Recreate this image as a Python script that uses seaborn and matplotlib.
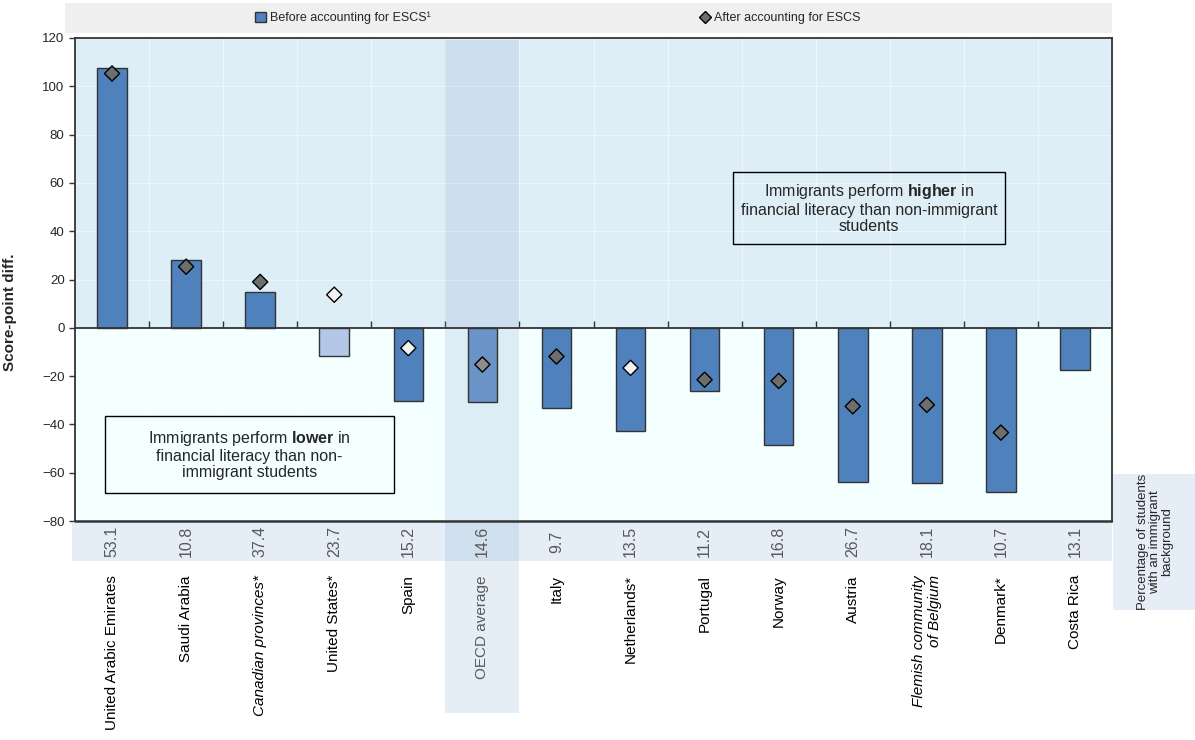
import numpy as np
import pandas as pd
import seaborn as sns
import matplotlib
matplotlib.use("Agg")
import matplotlib.pyplot as plt
from matplotlib.patches import Rectangle, Patch
from matplotlib.lines import Line2D
import matplotlib.transforms as mtransforms

# ---- data ----
countries = ["United Arabic Emirates", "Saudi Arabia", "Canadian provinces*", "United States*",
             "Spain", "OECD average", "Italy", "Netherlands*", "Portugal", "Norway", "Austria",
             "Flemish community\nof Belgium", "Denmark*", "Costa Rica"]
before = [107.6, 28.0, 14.8, -11.5, -30.3, -30.7, -33.4, -42.9, -26.1, -48.4, -63.8, -64.3, -67.8, -17.6]
after = [105.3, 25.3, 19.0, 13.7, -8.4, -15.2, -11.9, -16.6, -21.5, -22.0, -32.5, -31.9, -43.4, np.nan]
pct_immigrant = ["53.1", "10.8", "37.4", "23.7", "15.2", "14.6", "9.7", "13.5", "11.2",
                 "16.8", "26.7", "18.1", "10.7", "13.1"]
# significance: sig / ns / avg
before_status = ["sig", "sig", "sig", "ns", "sig", "avg", "sig", "sig", "sig", "sig", "sig", "sig", "sig", "sig"]
after_status = ["sig", "sig", "sig", "ns", "ns", "avg", "sig", "ns", "sig", "sig", "sig", "sig", "sig", "sig"]
italic_labels = ["Canadian provinces*", "Flemish community\nof Belgium"]

bar_col = {"sig": "#4F81BD", "ns": "#B4C7E7", "avg": "#6A93C8"}
mk_col = {"sig": "#6E6E6E", "ns": "#F2F2F2", "avg": "#8C8C8C"}

sns.set_style("white")
plt.rcParams['font.family'] = ['Liberation Sans', 'DejaVu Sans']
plt.rcParams['mathtext.fontset'] = 'custom'
plt.rcParams['mathtext.rm'] = 'Liberation Sans'
plt.rcParams['mathtext.bf'] = 'Liberation Sans:bold'

W, H = 1195, 740
fig = plt.figure(figsize=(W / 100, H / 100), dpi=100)
ax = fig.add_axes([75 / W, 1 - 521 / H, (1112 - 75) / W, (521 - 38) / H])

n = len(countries)
df = pd.DataFrame({"country": countries, "before": before, "after": after})

# backgrounds
ax.axhspan(0, 120, color="#DEEEF7", zorder=0, lw=0)
ax.axhspan(-80, 0, color="#F4FFFF", zorder=0, lw=0)

sns.barplot(data=df, x="country", y="before", hue="country",
            palette=[bar_col[s] for s in before_status], legend=False, dodge=False,
            width=0.4, saturation=1, edgecolor="#333333", linewidth=1, ax=ax, zorder=2)

ax.scatter(np.arange(n), df["after"], marker="D", s=60,
           c=[mk_col[s] for s in after_status], edgecolors="black", linewidths=1, zorder=3)

ax.set_xlim(-0.5, n - 0.5)
ax.set_ylim(-80, 120)
ax.set_yticks(np.arange(-80, 121, 20))
ax.set_xticks(np.arange(0.5, n - 1, 1))
ax.set_xticklabels([])
ax.set_xlabel("")
ax.set_ylabel("Score-point diff.", fontsize=11, fontweight="bold")
ax.yaxis.set_label_coords(-0.056, 0.433)
ax.grid(True, color="white", lw=0.6, alpha=0.6)
ax.set_axisbelow(True)

for s in ["left", "right", "top", "bottom"]:
    ax.spines[s].set_color("#333333")
    ax.spines[s].set_linewidth(1.3)
ax.spines["bottom"].set_position(("data", 0))
ax.plot([0, 1], [0, 0], transform=ax.transAxes, color="#333333", lw=1.8, clip_on=False, zorder=5)
ax.tick_params(axis="x", direction="in", length=5, width=1, color="#333333", bottom=True)
ax.tick_params(axis="y", direction="out", length=4, width=1, color="#333333", labelsize=9.5, left=True)

# OECD average highlight column
trans = mtransforms.blended_transform_factory(ax.transData, ax.transAxes)
oecd = countries.index("OECD average")
ax.add_patch(Rectangle((oecd - 0.5, -0.397), 1, 1.397 - 0.004, transform=trans,
                       fc="#7FA7D0", alpha=0.2, lw=0, clip_on=False, zorder=0.7))

# table row of percentages
ax.add_patch(Rectangle((-0.003, -0.083), 1.003, 0.079, transform=ax.transAxes,
                       fc="#E5EDF6", lw=0, clip_on=False, zorder=0.6))
for i, p in enumerate(pct_immigrant):
    ax.text(i, -0.043, p, transform=trans, rotation=90, ha="center", va="center",
            fontsize=11.5, color="#595959")

for i, c in enumerate(countries):
    ax.text(i, -0.112, c, transform=trans, rotation=90, ha="center", va="top",
            fontsize=11, multialignment="right",
            style="italic" if c in italic_labels else "normal",
            color="#595959" if c == "OECD average" else "black")

fig.patches.append(Rectangle((1113 / W, 1 - 610 / H), (W - 1113) / W, 136 / H,
                             transform=fig.transFigure, fc="#E5EDF6", lw=0, zorder=0))
fig.text(1155 / W, 1 - 542 / H, "Percentage of students\nwith an immigrant\nbackground",
         rotation=90, ha="center", va="center", fontsize=9.5, linespacing=1.0)

# annotation boxes
ax.add_patch(Rectangle((8.38, 34.8), 12.06 - 8.38, 64.5 - 34.8, fc="none", ec="black", lw=1, zorder=4))
ax.text(10.22, 49.6, "Immigrants perform $\\bf{higher}$ in\nfinancial literacy than non-immigrant\nstudents",
        ha="center", va="center", fontsize=11.5, linespacing=1.1, zorder=4)
ax.add_patch(Rectangle((-0.095, -68.3), 3.807 + 0.095, 68.3 - 36.6, fc="none", ec="black", lw=1, zorder=4))
ax.text(1.856, -52.5, "Immigrants perform $\\bf{lower}$ in\nfinancial literacy than non-\nimmigrant students",
        ha="center", va="center", fontsize=11.5, linespacing=1.1, zorder=4)

# legend
fig.patches.append(Rectangle((65 / W, 1 - 33 / H), (1112 - 65) / W, 30 / H,
                             transform=fig.transFigure, fc="#EFEFEF", lw=0, zorder=0))
handles = [Patch(fc=bar_col["sig"], ec="#333333", lw=1),
           Line2D([], [], marker="D", ls="", mfc=mk_col["sig"], mec="black", ms=6)]
fig.legend(handles, ["Before accounting for ESCS¹", "After accounting for ESCS"],
           loc="center", bbox_to_anchor=(558 / W, 1 - 18 / H), ncol=2, frameon=False,
           fontsize=9, handlelength=0.9, handleheight=0.9, handletextpad=0.3, columnspacing=21.5)

fig.savefig("out.png", dpi=100)
